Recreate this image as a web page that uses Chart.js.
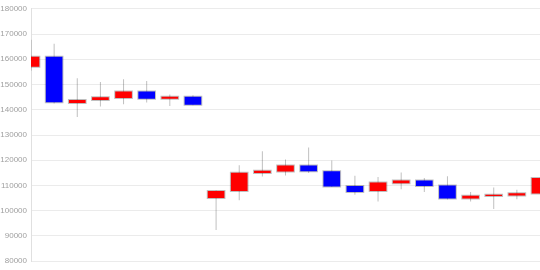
<!DOCTYPE html>
<html>
<head>
<meta charset="utf-8">
<script src="https://cdn.jsdelivr.net/npm/chart.js@4/dist/chart.umd.min.js"></script>
<style>
  html, body { margin: 0; padding: 0; background: #fff; }
  #wrap { width: 540px; height: 270px; }
</style>
</head>
<body>
<div id="wrap"><canvas id="candles"></canvas></div>
<script>
// daily candles, oldest first
const days = ['1', '2', '3', '4', '5', '6', '7', '8', '9', '10', '11', '12',
              '13', '14', '15', '16', '17', '18', '19', '20', '21', '22', '23'];
const opens  = [157000, 161000, 142700, 143900, 144700, 147200, 144400, 145200, 105000, 107800, 114900, 115500,
                117900, 115600, 109800, 107800, 110900, 112000, 110000, 104800, 105800, 106000, 106800];
const closes = [161000, 143000, 143900, 145000, 147200, 144400, 145200, 142000, 107800, 115000, 115800, 117900,
                115600, 109600, 107400, 111200, 112000, 109800, 104800, 105900, 106300, 106900, 113000];
const highs  = [167700, 166200, 152500, 151000, 152100, 151400, 146000, 145700, 108000, 118000, 123600, 120300,
                125000, 119900, 113900, 113400, 115100, 113000, 113700, 107400, 109200, 108300, 113100];
const lows   = [155500, 142500, 137100, 141300, 142200, 142900, 141500, 141800, 92400, 104100, 113600, 114000,
                114900, 109400, 106300, 103700, 108500, 107400, 104400, 103700, 100700, 104500, 106700];
const yTicks = [80000, 90000, 100000, 110000, 120000, 130000, 140000, 150000, 160000, 170000, 180000];

const bodyColors = opens.map((o, i) => closes[i] >= o ? '#ff0000' : '#0000ff');
const bodies = opens.map((o, i) => [o, closes[i]]);

const ctx = document.getElementById('candles').getContext('2d');
new Chart(ctx, {
    type: 'bar',
    data: {
        labels: days,
        datasets: [
            {
                // wicks
                data: lows.map((l, i) => [l, highs[i]]),
                backgroundColor: 'rgba(0,0,0,0.25)',
                borderWidth: 0,
                barThickness: 1,
                inflateAmount: 0,
                grouped: false,
                order: 3,
                clip: 0
            },
            {
                // grey outline, 1px larger than the body
                data: bodies,
                backgroundColor: 'rgba(0,0,0,0.25)',
                borderWidth: 0,
                inflateAmount: 1,
                barPercentage: 0.72,
                categoryPercentage: 1,
                grouped: false,
                order: 2,
                clip: 0
            },
            {
                // bodies
                data: bodies,
                backgroundColor: bodyColors,
                borderWidth: 0,
                inflateAmount: 0,
                barPercentage: 0.72,
                categoryPercentage: 1,
                grouped: false,
                order: 1,
                clip: 0
            }
        ]
    },
    options: {
        responsive: true,
        maintainAspectRatio: false,
        animation: false,
        layout: { autoPadding: false, padding: { top: 3, bottom: 3, left: 0, right: 0 } },
        plugins: { legend: { display: false }, tooltip: { enabled: false } },
        scales: {
            x: {
                type: 'category',
                offset: false,
                ticks: { display: false },
                grid: { display: false, drawTicks: false },
                border: { display: false }
            },
            y: {
                min: yTicks[0],
                max: yTicks[yTicks.length - 1],
                afterBuildTicks: scale => { scale.ticks = yTicks.map(v => ({ value: v })); },
                afterFit: scale => { scale.width = 31; },
                ticks: {
                    color: '#a0a0a0',
                    font: { size: 8, family: 'Liberation Sans' },
                    padding: 4,
                    callback: v => String(v)
                },
                grid: { color: '#ebebeb', lineWidth: 1, drawTicks: false },
                border: { color: '#e0e0e0' }
            }
        }
    }
});
</script>
</body>
</html>
